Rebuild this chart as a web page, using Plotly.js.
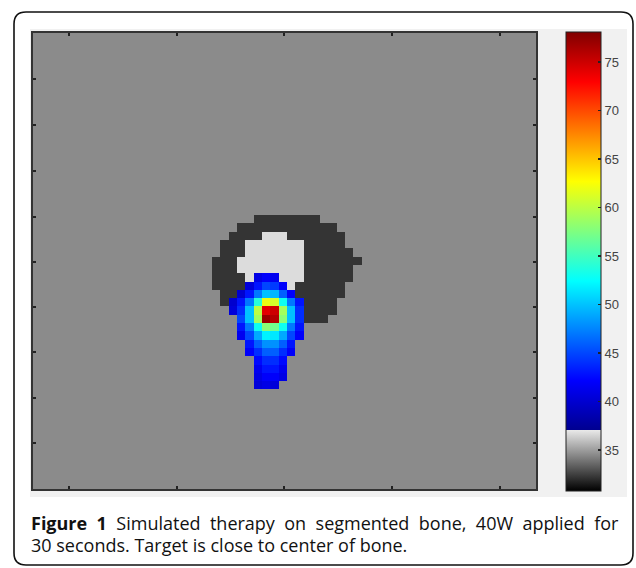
<!DOCTYPE html>
<html><head><meta charset="utf-8">
<script src="https://cdn.plot.ly/plotly-3.0.1.min.js"></script>
<style>html,body{margin:0;padding:0;background:#fff;} #chart{width:636px;height:568px;}</style>
</head><body><div id="chart"></div>
<script>
// ---------- data ----------
const B = 34.55;   // background tissue (grey)
const D = 32.19;   // dark bone ring
const L = 36.72;   // light bone core
const gridCols = 62;
const gridRows = 56;
const regionRow0 = 22;
const regionCol0 = 22;
// rows 22..42, cols 22..39 ; numbers = temperature of heated cells
const boneRegion = [
  [B,B,B,B,B,D,D,D,D,D,D,D,D,B,B,B,B,B],
  [B,B,B,D,D,D,D,D,D,D,D,D,D,D,D,B,B,B],
  [B,B,D,D,D,D,L,L,L,D,D,D,D,D,D,D,B,B],
  [B,D,D,D,L,L,L,L,L,L,L,D,D,D,D,D,B,B],
  [B,D,D,D,L,L,L,L,L,L,L,D,D,D,D,D,D,B],
  [D,D,D,L,L,L,L,L,L,L,L,D,D,D,D,D,D,D],
  [D,D,D,L,L,L,L,L,L,L,L,D,D,D,D,D,D,B],
  [D,D,D,D,L,41,42,41.5,L,L,L,D,D,D,D,D,D,B],
  [D,D,D,D,40.5,43,45,44.5,42,L,D,D,D,D,D,D,B,B],
  [B,D,D,40,43,47,50,49.5,46,42,D,D,D,D,D,D,B,B],
  [B,D,40,43,47,54,62,61,53,47,43,D,D,D,D,B,B,B],
  [B,B,40.5,44,50,60,74,75,59,50,44,D,D,D,D,B,B,B],
  [B,B,B,45,50,59,77,76,58,50,44,D,D,D,B,B,B,B],
  [B,B,B,43,47,53,58,57,53,47,43,B,B,B,B,B,B,B],
  [B,B,B,41.5,45,49,52,51.5,49,45,42,B,B,B,B,B,B,B],
  [B,B,B,B,43,46,48,48,46,43,B,B,B,B,B,B,B,B],
  [B,B,B,B,42,44,46,46,44,42,B,B,B,B,B,B,B,B],
  [B,B,B,B,B,42.5,44,44,42.5,B,B,B,B,B,B,B,B,B],
  [B,B,B,B,B,41.5,43,43,41.5,B,B,B,B,B,B,B,B,B],
  [B,B,B,B,B,41,42,42,41,B,B,B,B,B,B,B,B,B],
  [B,B,B,B,B,40.5,41,40.5,B,B,B,B,B,B,B,B,B,B]
];
const zMin = 30.8;
const zMax = 78.1;
const grayTop = 37.05;
const cbTickVals = [35, 40, 45, 50, 55, 60, 65, 70, 75];
const cbTickText = ['35', '40', '45', '50', '55', '60', '65', '70', '75'];
const captionBold = 'Figure 1';
const captionLine1 = 'Simulated therapy on segmented bone, 40W applied for';
const captionLine2 = '30 seconds. Target is close to center of bone.';

// ---------- build grid ----------
const z = [];
for (let i = 0; i < gridRows; i++) {
  const row = [];
  for (let j = 0; j < gridCols; j++) {
    let v = B;
    const ri = i - regionRow0, cj = j - regionCol0;
    if (ri >= 0 && ri < boneRegion.length && cj >= 0 && cj < boneRegion[ri].length) v = boneRegion[ri][cj];
    row.push(v);
  }
  z.push(row);
}
const xs = Array.from({length: gridCols}, (_, j) => j);
const ys = Array.from({length: gridRows}, (_, i) => i);

// ---------- geometry helpers (pixels -> paper / data) ----------
const W = 636, H = 568;
const mL = 33, mT = 33, mR = 100, mB = 79;
const PW = W - mL - mR, PH = H - mT - mB;
const X = p => (p - mL) / PW;
const Y = p => (H - mB - p) / PH;
const cell = 8.3;
const dX = p => (p - 212) / cell + 21.5;
const dY = p => (p - 215) / cell + 21.5;

// colorscale: grey ramp below grayTop, jet above
const g = (grayTop - zMin) / (zMax - zMin);
const s = t => g + (1 - g) * t;
const colorscale = [
  [0, 'rgb(0,0,0)'],
  [g, 'rgb(232,232,232)'],
  [g, 'rgb(0,0,143)'],
  [s(0.125), 'rgb(0,0,255)'],
  [s(0.375), 'rgb(0,255,255)'],
  [s(0.625), 'rgb(255,255,0)'],
  [s(0.875), 'rgb(255,0,0)'],
  [1, 'rgb(128,0,0)']
];

const xTickPx = [69, 177, 284, 392, 500];
const yTickPx = [79, 125, 171, 217, 262, 307, 352, 398, 443];

// colorbar geometry (pixels)
const cbLeft = 566, cbRight = 601, cbTop = 32, cbBottom = 491;
const cbY = v => cbBottom - (v - zMin) / (zMax - zMin) * (cbBottom - cbTop);

const r = 12, fx0 = 14, fy0 = 12, fx1 = 633, fy1 = 565;
const P = (a, b) => X(a) + ',' + Y(b);
const framePath = 'M ' + P(fx0 + r, fy0) + ' L ' + P(fx1 - r, fy0) + ' Q ' + P(fx1, fy0) + ' ' + P(fx1, fy0 + r) +
  ' L ' + P(fx1, fy1 - r) + ' Q ' + P(fx1, fy1) + ' ' + P(fx1 - r, fy1) +
  ' L ' + P(fx0 + r, fy1) + ' Q ' + P(fx0, fy1) + ' ' + P(fx0, fy1 - r) +
  ' L ' + P(fx0, fy0 + r) + ' Q ' + P(fx0, fy0) + ' ' + P(fx0 + r, fy0) + ' Z';

const trace = {
  type: 'heatmap', x: xs, y: ys, z: z, zmin: zMin, zmax: zMax, zsmooth: false,
  colorscale: colorscale, hoverinfo: 'skip',
  colorbar: {
    x: X(cbLeft), xanchor: 'left', xpad: 0, y: Y(cbTop), yanchor: 'top', ypad: 0,
    len: cbBottom - cbTop, lenmode: 'pixels', thickness: cbRight - cbLeft, thicknessmode: 'pixels',
    outlinewidth: 1, outlinecolor: '#222',
    tickmode: 'array', tickvals: cbTickVals, ticktext: cbTickText,
    ticks: 'inside', ticklen: 3, tickwidth: 1.5, tickcolor: '#222',
    tickfont: {family: 'Liberation Sans', size: 13, color: '#444'}
  }
};

const axisCommon = {
  showgrid: false, zeroline: false, showticklabels: false,
  ticks: 'inside', ticklen: 3, tickwidth: 2, tickcolor: '#222',
  showline: true, linecolor: '#333', linewidth: 2, mirror: 'ticks', tickmode: 'array'
};

const shapes = [
  {type: 'rect', xref: 'paper', yref: 'paper', x0: X(30), x1: X(627), y0: Y(497), y1: Y(29),
   fillcolor: '#f1f1f1', line: {width: 0}, layer: 'below'},
  {type: 'path', xref: 'paper', yref: 'paper', path: framePath, line: {color: '#111', width: 1.6}, fillcolor: 'rgba(0,0,0,0)'}
];
// left-side colorbar tick marks (MATLAB draws them on both edges)
cbTickVals.forEach(v => {
  shapes.push({type: 'line', xref: 'paper', yref: 'paper', x0: X(cbLeft), x1: X(cbLeft + 3), y0: Y(cbY(v)), y1: Y(cbY(v)),
    line: {color: '#222', width: 1.5}});
});

const capFont = {family: 'Open Sans', size: 18, color: '#111'};
const layout = {
  width: W, height: H, margin: {l: mL, r: mR, t: mT, b: mB, pad: 0},
  paper_bgcolor: '#ffffff', plot_bgcolor: '#8a8a8a',
  xaxis: Object.assign({}, axisCommon, {range: [dX(33), dX(536)], tickvals: xTickPx.map(dX)}),
  yaxis: Object.assign({}, axisCommon, {range: [dY(489), dY(33)], tickvals: yTickPx.map(dY)}),
  shapes: shapes,
  annotations: [
    {xref: 'paper', yref: 'paper', x: X(29), y: Y(523), xanchor: 'left', yanchor: 'middle', align: 'left', showarrow: false,
     text: '<b>' + captionBold + '</b> ' + captionLine1, font: capFont},
    {xref: 'paper', yref: 'paper', x: X(29), y: Y(545), xanchor: 'left', yanchor: 'middle', align: 'left', showarrow: false,
     text: captionLine2, font: capFont}
  ]
};

Plotly.newPlot('chart', [trace], layout, {displayModeBar: false, staticPlot: true}).then(gd => {
  // justify the first caption line like the printed figure (text spans 31px..619px)
  const t = gd.querySelector('.annotation[data-index="0"] .annotation-text');
  if (t) {
    const w = t.getBBox().width;
    const nSp = (t.textContent.match(/ /g) || []).length;
    if (nSp > 0 && w < 588) t.style.wordSpacing = ((588 - w) / nSp).toFixed(2) + 'px';
  }
});
</script>
</body></html>
